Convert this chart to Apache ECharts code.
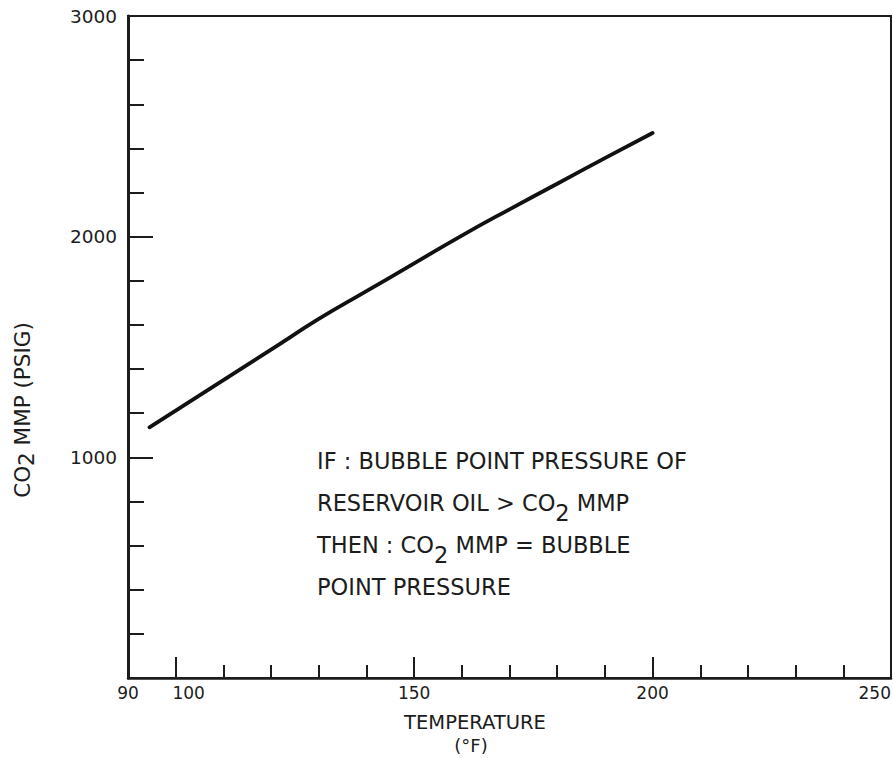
<!DOCTYPE html>
<html><head><meta charset="utf-8">
<script src="https://cdn.jsdelivr.net/npm/echarts@6/dist/echarts.min.js"></script>
<style>html,body{margin:0;padding:0;background:#fff}#c{width:893px;height:758px}</style>
</head><body><div id="c"></div>
<script>
// ---- data ----
const temperatures = [94.5, 100, 110, 120, 130, 140, 150, 160, 170, 180, 190, 200];
const mmpValues = [1136, 1212, 1350, 1488, 1627, 1753, 1879, 2005, 2124, 2240, 2356, 2470];
const xTickLabels = [90, 100, 150, 200, 250];
const xMajorTicks = [100, 150, 200];
const yTickLabels = [1000, 2000, 3000];
const xTitle = 'TEMPERATURE';
const xUnit = '(°F)';
const yTitleParts = ['CO', '2', ' MMP (PSIG)'];
const noteLines = [
  ['IF : BUBBLE POINT PRESSURE OF'],
  ['RESERVOIR OIL > CO', '2', ' MMP'],
  ['THEN : CO', '2', ' MMP = BUBBLE'],
  ['POINT PRESSURE']
];

const FONT = "'DejaVu Sans','Noto Sans',sans-serif";
const INK = '#1c1c1c';

function richLine(parts) {
  return parts.map((p, i) => (i % 2 === 1 ? '{s|' + p + '}' : '{t|' + p + '}')).join('');
}

const chart = echarts.init(document.getElementById('c'), null, { renderer: 'svg' });
const seriesData = temperatures.map((t, i) => [t, mmpValues[i]]);

chart.setOption({
  backgroundColor: '#fff',
  animation: false,
  grid: {
    left: 128, right: 2, top: 16, bottom: 80,
    containLabel: false, outerBoundsMode: 'none',
    show: true, borderColor: INK, borderWidth: 2, backgroundColor: 'transparent'
  },
  xAxis: [
    {
      type: 'value', min: 90, max: 250, interval: 10, position: 'bottom',
      axisLine: { show: true, onZero: false, lineStyle: { color: INK, width: 2.5 } },
      axisTick: { show: true, inside: true, length: 13, lineStyle: { color: INK, width: 2 } },
      splitLine: { show: false },
      axisLabel: {
        customValues: xTickLabels, margin: 6, fontSize: 17, color: INK, fontFamily: FONT,
        alignMaxLabel: 'right',
        formatter: v => (v === 100 ? '{r|' + v + '}' : String(v)),
        rich: { r: { padding: [0, 0, 0, 26], fontSize: 17, color: INK, fontFamily: FONT } }
      }
    },
    {
      type: 'value', min: 90, max: 250, position: 'bottom',
      axisLine: { show: false },
      axisTick: { show: true, inside: true, length: 21, customValues: xMajorTicks, lineStyle: { color: INK, width: 2 } },
      axisLabel: { show: false },
      splitLine: { show: false }
    }
  ],
  yAxis: {
    type: 'value', min: 0, max: 3000, interval: 1000, position: 'left',
    axisLine: { show: true, onZero: false, lineStyle: { color: INK, width: 3 } },
    axisTick: { show: true, inside: true, length: 25, lineStyle: { color: INK, width: 2 } },
    minorTick: { show: true, splitNumber: 5, length: 16, lineStyle: { color: INK, width: 2 } },
    splitLine: { show: false },
    minorSplitLine: { show: false },
    axisLabel: {
      customValues: yTickLabels, margin: 11, fontSize: 18.5, color: INK, fontFamily: FONT,
      formatter: v => String(v)
    }
  },
  series: [{
    type: 'line', xAxisIndex: 0, yAxisIndex: 0,
    data: seriesData, smooth: true, showSymbol: false,
    lineStyle: { color: '#111', width: 3.8, cap: 'round' }
  }],
  graphic: [
    {
      type: 'text', x: 22, y: 410, rotation: Math.PI / 2,
      style: {
        text: richLine(yTitleParts), align: 'center', verticalAlign: 'middle',
        rich: {
          t: { fontSize: 21.5, lineHeight: 30, fontFamily: FONT, fill: INK, verticalAlign: 'middle' },
          s: { fontSize: 21.5, lineHeight: 12, fontFamily: FONT, fill: INK, verticalAlign: 'bottom' }
        }
      }
    },
    {
      type: 'text', x: 475, y: 722,
      style: { text: xTitle, align: 'center', verticalAlign: 'middle', fontSize: 19.5, fontFamily: FONT, fill: INK }
    },
    {
      type: 'text', x: 471, y: 745,
      style: { text: xUnit, align: 'center', verticalAlign: 'middle', fontSize: 18, fontFamily: FONT, fill: INK }
    },
    {
      type: 'text', x: 317, y: 440,
      style: {
        text: noteLines.map(richLine).join('\n'), align: 'left', verticalAlign: 'top',
        rich: {
          t: { fontSize: 22.5, lineHeight: 42, fontFamily: FONT, fill: INK, verticalAlign: 'middle' },
          s: { fontSize: 22.5, lineHeight: 16, fontFamily: FONT, fill: INK, verticalAlign: 'bottom' }
        }
      }
    }
  ]
});
</script>
</body></html>
